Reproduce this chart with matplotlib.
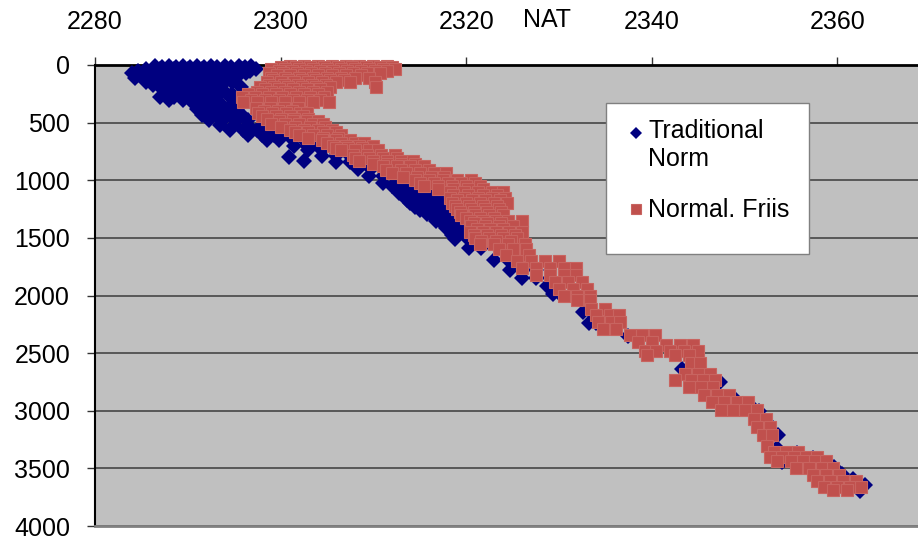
import numpy as np
import matplotlib
matplotlib.use('Agg')
from matplotlib import pyplot as plt
from matplotlib.patches import Rectangle

plt.rcParams['font.family'] = ['Liberation Sans', 'DejaVu Sans']

# Traditional Norm: depth rows and NAT values on each row
trad_depth = [5, 20, 35, 52, 70, 90, 110, 130, 150, 170, 190, 230, 255, 280, 305,
              330, 355, 380, 405, 430, 480, 520, 560, 610, 650, 700, 740, 790,
              800, 833, 840, 900, 960, 1020, 1050, 1080, 1110, 1140, 1170, 1200,
              1230, 1260, 1290, 1320, 1350, 1380, 1410, 1440, 1475, 1510, 1590,
              1690, 1780, 1850, 1920, 1990, 2140, 2240, 2350, 2640, 2750, 2880,
              2950, 3003, 3100, 3210, 3325, 3370, 3410, 3445, 3490, 3550, 3595,
              3645, 3700]
trad_nat = [
    [2286.5, 2288, 2289.5, 2291, 2292.5, 2294, 2295.5, 2296.8],
    [2287.2, 2288.7, 2290.2, 2291.7, 2293.2, 2294.7, 2296.2],
    [2285.5, 2287, 2288.5, 2290, 2291.5, 2293, 2294.5, 2296, 2297.3],
    [2284.6, 2286.2, 2287.7, 2289.2, 2290.7, 2292.2, 2293.7, 2295.2, 2296.7],
    [2284, 2285.5, 2287, 2288.5, 2290, 2291.5, 2293, 2294.5, 2296.3],
    [2285, 2286.7, 2288.2, 2289.7, 2291.2, 2292.7, 2294.2, 2295.5],
    [2284.3, 2286, 2287.5, 2289, 2290.5, 2292, 2293.5],
    [2286.7, 2288.2, 2289.7, 2291.2, 2292.7, 2294],
    [2285.5, 2287, 2288.5, 2290, 2291.5, 2293, 2294.8],
    [2286.2, 2287.7, 2289.2, 2290.7, 2292.2, 2293.7],
    [2287, 2288.5, 2290, 2291.5, 2293, 2295.7],
    [2288, 2289.5, 2291, 2292.5, 2294],
    [2288.7, 2290.2, 2291.7, 2293.2, 2294.8],
    [2287, 2288.5, 2290, 2291.5, 2293, 2294.5, 2296],
    [2288, 2289.5, 2291, 2292.5],
    [2290.6, 2292, 2293.5, 2295],
    [2291.5, 2293, 2294.5],
    [2291, 2292.5, 2294, 2295.3],
    [2291.8, 2293.3, 2294.8],
    [2291.5, 2293, 2294.5, 2295.8],
    [2292.3, 2293.8, 2295.3, 2296.5],
    [2293.5, 2295, 2296.5, 2298, 2299],
    [2294.5, 2296, 2297.5, 2298.8],
    [2296.5, 2298, 2299.3, 2300.3],
    [2298.5, 2299.8, 2301.3, 2302.5],
    [2301.5, 2302.8, 2304],
    [2303, 2304.5, 2305.8, 2307],
    [2304.5, 2306, 2307.5, 2309],
    [2300.9],
    [2302.5],
    [2306, 2307.5, 2309, 2310.5],
    [2308.3, 2309.8, 2311.3],
    [2309.5, 2311, 2312.5, 2313.5],
    [2311, 2312.5, 2314, 2315.5],
    [2312, 2313.3, 2314.8, 2316.2],
    [2312.6, 2314, 2315.5, 2317],
    [2312.8, 2314.2, 2315.7, 2317.2, 2318.4],
    [2313.3, 2314.8, 2316.3, 2317.8, 2319],
    [2313.6, 2315, 2316.6, 2318, 2319.3],
    [2314, 2315.5, 2317, 2318.5, 2319.8],
    [2314.5, 2316, 2317.5, 2319, 2320.3],
    [2315, 2316.5, 2318, 2319.5, 2320.8],
    [2315.8, 2317.2, 2318.8, 2320.2],
    [2316.5, 2318, 2319.5, 2321],
    [2316.8, 2318.3, 2319.8, 2321],
    [2317.5, 2319, 2320.5],
    [2317.8, 2319.3, 2320.6],
    [2318.3, 2319.8, 2321.2],
    [2318.5, 2320, 2321.3],
    [2318.8, 2320.2, 2321.5],
    [2320.3, 2321.6],
    [2323, 2324.5],
    [2324.7, 2326, 2327.5],
    [2326, 2327.5, 2329],
    [2328.7, 2329.5],
    [2329.4, 2330.1],
    [2332.6, 2333.5],
    [2333.2, 2334],
    [2337.4],
    [2343.3],
    [2347.4],
    [2348.8],
    [2350.6],
    [2351.6],
    [2352.4],
    [2353.6],
    [2353.5],
    [2355.7],
    [2357.4],
    [2354],
    [2359.6],
    [2360.5],
    [2361.7],
    [2363],
    [2362.5],
]

# Normal. Friis
friis_depth = [5, 20, 35, 52, 70, 90, 110, 130, 150, 170, 190, 210, 230, 255, 280,
               300, 320, 370, 395, 420, 445, 470, 490, 510, 535, 560, 585, 610,
               630, 650, 675, 700, 720, 740, 780, 805, 830, 855, 880, 910, 940,
               970, 1000, 1025, 1050, 1075, 1100, 1125, 1150, 1175, 1200, 1225,
               1250, 1275, 1300, 1325, 1350, 1375, 1400, 1425, 1450, 1475, 1500,
               1525, 1550, 1600, 1650, 1700, 1760, 1820, 1880, 1940, 2000, 2040,
               2120, 2170, 2230, 2290, 2340, 2400, 2430, 2480, 2520, 2590, 2680,
               2730, 2790, 2860, 2920, 2990, 3070, 3140, 3210, 3310, 3360, 3400,
               3440, 3500, 3560, 3610, 3660, 3690]
friis_nat = [
    [2301, 2302.5, 2304, 2305.5, 2307, 2308.5, 2310, 2311.5],
    [2300, 2301.7, 2303.2, 2304.7, 2306.2, 2307.7, 2309.2, 2310.7, 2312],
    [2299, 2300.5, 2302, 2303.5, 2305, 2306.5, 2308, 2309.5, 2311, 2312.3],
    [2299.8, 2301.2, 2302.7, 2304.2, 2305.7, 2307.2, 2308.7, 2310.2, 2311.5],
    [2298.8, 2300.3, 2301.8, 2303.3, 2304.8, 2306.3, 2307.8, 2309.3, 2310.7],
    [2299.6, 2301, 2302.5, 2304, 2305.5, 2307, 2308.7],
    [2299, 2300.5, 2302, 2303.5, 2305, 2306.5, 2308, 2309.5],
    [2299.2, 2300.8, 2302.3, 2303.8, 2305.3, 2306.8],
    [2298.5, 2300, 2301.5, 2303, 2304.5, 2306, 2307.5, 2310.2],
    [2298.8, 2300.4, 2301.9, 2303.4, 2304.9],
    [2297.8, 2299.3, 2300.8, 2302.3, 2303.8, 2305.3, 2310.3],
    [2298.3, 2299.8, 2301.3, 2302.8, 2304.3],
    [2297.5, 2299, 2300.5, 2302, 2303.5, 2305],
    [2296.5, 2298, 2299.5, 2301, 2302.5, 2304],
    [2295.8, 2297.2, 2298.7, 2300.2, 2301.7, 2303.2, 2304.7],
    [2296.8, 2298.3, 2299.8, 2301.3, 2302.8, 2304.3],
    [2296, 2297.5, 2299, 2300.5, 2302, 2303.5, 2305.2],
    [2297.4, 2298.9, 2300.4, 2301.9],
    [2298.2, 2299.7, 2301.2],
    [2297.6, 2299.1, 2300.6, 2302.1, 2302.8],
    [2298, 2299.5, 2301, 2302.4],
    [2298.5, 2300, 2301.5, 2303],
    [2299.8, 2301.3, 2302.8, 2304],
    [2299, 2300.5, 2302, 2303.5, 2304.6],
    [2300, 2301.6, 2303.2, 2304.8],
    [2301, 2302.5, 2304, 2305.5],
    [2301.6, 2303, 2304.6, 2306],
    [2302, 2303.5, 2305, 2306.5],
    [2303, 2304.6, 2306.2],
    [2304.5, 2306, 2307.5],
    [2305, 2306.5, 2308, 2309],
    [2305.6, 2307, 2308.5, 2310],
    [2306, 2307.3, 2308.8],
    [2306.5, 2308, 2309.5, 2310.5],
    [2307.8, 2309.3, 2310.8, 2312.3],
    [2308, 2309.5, 2311, 2312.5],
    [2308.5, 2310, 2311.5, 2313, 2314.3],
    [2310, 2311.5, 2313, 2314.5],
    [2311, 2312.5, 2314, 2315.5],
    [2311.4, 2313, 2314.5, 2316],
    [2312, 2313.5, 2315, 2316.5, 2317.8],
    [2313.2, 2314.7, 2316.2, 2317.6],
    [2314.5, 2316, 2317.5, 2319, 2320.5],
    [2315, 2316.5, 2318, 2319.5, 2321],
    [2315.5, 2317, 2318.5, 2320, 2321.5],
    [2317, 2318.6, 2320.2, 2321.8],
    [2318.3, 2319.8, 2321.3, 2322.8, 2324],
    [2318.6, 2320.2, 2321.8, 2323.3],
    [2318.3, 2319.8, 2321.3, 2322.8, 2324.2],
    [2319, 2320.6, 2322, 2323.6],
    [2318.5, 2320, 2321.5, 2323, 2324.4],
    [2318.8, 2320.3, 2321.8, 2323.3],
    [2319, 2320.5, 2322, 2323.5],
    [2319.3, 2320.8, 2322.3, 2323.8],
    [2319.5, 2321, 2322.5, 2324],
    [2320, 2321.5, 2323],
    [2320.4, 2321.8, 2323.2, 2324.5, 2326],
    [2320.8, 2322.3, 2323.8],
    [2320.5, 2322, 2323.5, 2325],
    [2321.2, 2322.6, 2324],
    [2320.4, 2321.8, 2323.2, 2324.6, 2326],
    [2320.8, 2322.2, 2323.8, 2325.3],
    [2321, 2322.5, 2324, 2325.5],
    [2321.6, 2323.2, 2324.8],
    [2321.5, 2323, 2324.5, 2326.3],
    [2323.5, 2325, 2326.5],
    [2324.3, 2326.8],
    [2325.5, 2327, 2328.5, 2330],
    [2326, 2327.5, 2329, 2330.5, 2331.8],
    [2327.5, 2329, 2330.5, 2331.8],
    [2329.6, 2331, 2332.5],
    [2330, 2331.5, 2333],
    [2330.5, 2332, 2333.3],
    [2332, 2333.4],
    [2333.5, 2335],
    [2334, 2335.5, 2336.5],
    [2334.2, 2335.6, 2336.6],
    [2334.8, 2336.2],
    [2337.7, 2339, 2340.4],
    [2338.5, 2340],
    [2341.5, 2343, 2344.5],
    [2339.3, 2340.5, 2342, 2343.5, 2345],
    [2339.5, 2342.5, 2344],
    [2344.2, 2345.2],
    [2343.6, 2345, 2346.3],
    [2342.5, 2344.2, 2345.5, 2346.8],
    [2344, 2345.3, 2346.6],
    [2345.6, 2347, 2348.3],
    [2346.5, 2347.8, 2349.2, 2350.4],
    [2347.5, 2348.8, 2350.1, 2351.3],
    [2351, 2352.3],
    [2351.4, 2352.8],
    [2352, 2353],
    [2352.4],
    [2353.2, 2354.5, 2355.8],
    [2352.8, 2354, 2355.3, 2356.6, 2357.8],
    [2353.5, 2355, 2356.3, 2357.6, 2358.8],
    [2355.5, 2357, 2358.3, 2359.5],
    [2357.4, 2358.8, 2360.2],
    [2357.8, 2359.2, 2360.6, 2362],
    [2358.6, 2360, 2361.4, 2362.6],
    [2359.5, 2361],
]

y_ticks = [0, 500, 1000, 1500, 2000, 2500, 3000, 3500, 4000]
x_ticks = [2280, 2300, 2320, 2340, 2360]


def flatten(depths, nats):
    xs = np.concatenate([np.array(r, dtype=float) for r in nats])
    ys = np.repeat(np.array(depths, dtype=float), [len(r) for r in nats])
    return xs, ys


tx, ty = flatten(trad_depth, trad_nat)
fx, fy = flatten(friis_depth, friis_nat)

fig = plt.figure(figsize=(9.18, 5.37), dpi=100)
ax = fig.add_axes([95/918, 11/537, 823/918, 461/537])
ax.set_facecolor('#C0C0C0')

ax.plot(tx, ty, 'D', color='#000080', ms=8, mew=0, label='Traditional\nNorm',
        clip_on=False, zorder=3)
ax.plot(fx, fy, 's', color='#C0504D', mec='#C86460', mew=0.8, ms=8.8,
        label='Normal. Friis', clip_on=False, zorder=4)

ax.set_xlim(2280, 2368.7)
ax.set_ylim(4000, 0)
ax.set_yticks(y_ticks)
ax.set_xticks(x_ticks)
ax.xaxis.tick_top()
ax.tick_params(axis='both', labelsize=18, length=6, width=1, color='#333333')
ax.tick_params(axis='y', pad=12)
ax.tick_params(axis='x', pad=16)
ax.yaxis.grid(True, color='#505050', lw=1.3)
ax.set_axisbelow(True)
ax.spines['right'].set_visible(False)
ax.spines['top'].set_linewidth(2)
ax.spines['left'].set_linewidth(1.5)
ax.spines['bottom'].set_color('#808080')
ax.spines['bottom'].set_linewidth(2)

fig.text(547/918, 1 - 20/537, 'NAT', ha='center', va='center', fontsize=18)

box = Rectangle((0.621, 0.59), 0.247, 0.328, transform=ax.transAxes,
                facecolor='white', edgecolor='#808080', lw=1, zorder=5)
ax.add_patch(box)
leg = ax.legend(loc='upper left', bbox_to_anchor=((626-95)/823, 1 - (119-65)/461),
                frameon=False, fontsize=18, handlelength=0.8, handletextpad=0.1,
                borderpad=0, borderaxespad=0, labelspacing=1.1, markerscale=0.75)
leg.set_zorder(6)
# put the diamond next to the first line of its two-line label
h0 = leg.legend_handles[0]
h0.set_ydata(np.asarray(h0.get_ydata()) + 9)

plt.savefig('out.png', dpi=100)
